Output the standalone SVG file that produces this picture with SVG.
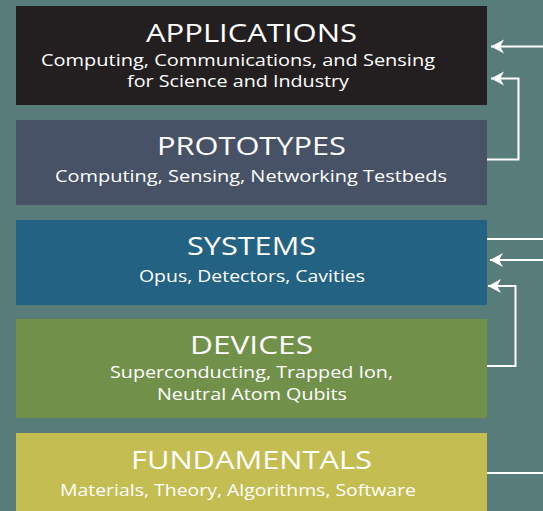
<svg xmlns="http://www.w3.org/2000/svg" width="543" height="511" viewBox="0 0 543 511">
<defs>
<style>
.t{font-family:"Open Sans","DejaVu Sans",sans-serif;fill:#ffffff;text-anchor:middle}
.h{font-size:25px}
.s{font-size:16.5px}
.c{fill:none;stroke:#ffffff;stroke-width:2}
</style>
<marker id="ah" markerWidth="16" markerHeight="16" viewBox="0 0 16 16" refX="14" refY="8" orient="auto" markerUnits="userSpaceOnUse">
<path d="M14,8 L1,1 L4.8,8 L1,15 Z" fill="#ffffff"/>
</marker>
</defs>
<rect width="543" height="511" fill="#587c7a"/>
<g id="applications">
<rect x="16" y="6" width="471" height="99" fill="#231f20"/>
<text class="t h" x="251.5" y="42" textLength="211" lengthAdjust="spacingAndGlyphs">APPLICATIONS</text>
<text class="t s" x="238" y="66" textLength="394" lengthAdjust="spacingAndGlyphs">Computing, Communications, and Sensing</text>
<text class="t s" x="238" y="87" textLength="222" lengthAdjust="spacingAndGlyphs">for Science and Industry</text>
</g>
<g id="prototypes">
<rect x="16" y="120" width="471" height="85" fill="#475266"/>
<text class="t h" x="251.5" y="155" textLength="189" lengthAdjust="spacingAndGlyphs">PROTOTYPES</text>
<text class="t s" x="251" y="182" textLength="392" lengthAdjust="spacingAndGlyphs">Computing, Sensing, Networking Testbeds</text>
</g>
<g id="systems">
<rect x="16" y="220" width="471" height="85" fill="#236283"/>
<text class="t h" x="251.5" y="255" textLength="129" lengthAdjust="spacingAndGlyphs">SYSTEMS</text>
<text class="t s" x="252" y="282" textLength="226" lengthAdjust="spacingAndGlyphs">Opus, Detectors, Cavities</text>
</g>
<g id="devices">
<rect x="16" y="319" width="471" height="99" fill="#71914b"/>
<text class="t h" x="251.5" y="354" textLength="123" lengthAdjust="spacingAndGlyphs">DEVICES</text>
<text class="t s" x="251.5" y="378" textLength="283" lengthAdjust="spacingAndGlyphs">Superconducting, Trapped Ion,</text>
<text class="t s" x="252" y="400" textLength="190" lengthAdjust="spacingAndGlyphs">Neutral Atom Qubits</text>
</g>
<g id="fundamentals">
<rect x="16" y="433" width="471" height="78" fill="#c4bd51"/>
<text class="t h" x="251.5" y="469" textLength="241" lengthAdjust="spacingAndGlyphs">FUNDAMENTALS</text>
<text class="t s" x="238" y="496" textLength="356" lengthAdjust="spacingAndGlyphs">Materials, Theory, Algorithms, Software</text>
</g>
<g id="connectors">
<path class="c" d="M543,46.5 L491,46.5" marker-end="url(#ah)"/>
<path class="c" d="M487,159.5 L518.5,159.5 L518.5,78.5 L491,78.5" marker-end="url(#ah)"/>
<path class="c" d="M487,239 L543,239"/>
<path class="c" d="M543,260 L490,260" marker-end="url(#ah)"/>
<path class="c" d="M487,366 L515.5,366 L515.5,286 L488,286" marker-end="url(#ah)"/>
<path class="c" d="M487,473 L543,473"/>
</g>
</svg>
